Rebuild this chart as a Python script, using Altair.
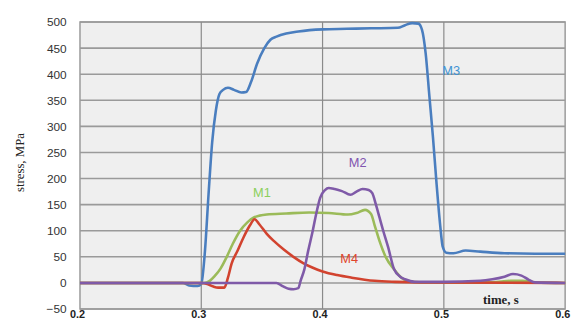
import altair as alt
import pandas as pd

# ---- data ----
m3_t = [0.200, 0.285, 0.290, 0.297, 0.300, 0.303, 0.306, 0.309, 0.312, 0.315, 0.318, 0.322, 0.327,
        0.333, 0.337, 0.341, 0.346, 0.352, 0.357, 0.362, 0.370, 0.380, 0.400, 0.420, 0.440, 0.462,
        0.468, 0.474, 0.479, 0.482, 0.485, 0.488, 0.491, 0.494, 0.497, 0.499, 0.502, 0.508, 0.518,
        0.530, 0.550, 0.575, 0.600]
m3_v = [0, 0, -5, -6, -2, 60, 170, 270, 330, 362, 370, 374, 370,
        365, 366, 385, 420, 450, 466, 472, 478, 482, 486, 487, 488, 489,
        494, 498, 497, 485, 440, 360, 280, 190, 110, 70, 58, 57, 62,
        60, 57, 56, 56]

m1_t = [0.200, 0.302, 0.307, 0.311, 0.316, 0.321, 0.326, 0.332, 0.338, 0.343, 0.354, 0.370, 0.389,
        0.405, 0.421, 0.428, 0.435, 0.440, 0.443, 0.447, 0.452, 0.459, 0.465, 0.470, 0.480, 0.540,
        0.555, 0.565, 0.575, 0.600]
m1_v = [0, 0, 4, 13, 28, 50, 75, 100, 116, 125, 131, 133, 135,
        134, 131, 134, 140, 132, 110, 80, 50, 26, 10, 4, 1, 1,
        4, 4, 1, 0]

m2_t = [0.200, 0.355, 0.362, 0.367, 0.372, 0.376, 0.380, 0.382, 0.385, 0.388, 0.392, 0.395, 0.398,
        0.402, 0.405, 0.410, 0.416, 0.423, 0.428, 0.433, 0.438, 0.441, 0.444, 0.447, 0.450, 0.454,
        0.459, 0.464, 0.468, 0.476, 0.500, 0.530, 0.540, 0.550, 0.557, 0.564, 0.570, 0.575, 0.600]
m2_v = [0, 0, 0, -6, -11, -12, -10, 5, 26, 60, 101, 135, 163,
        178, 182, 180, 176, 169, 175, 180, 178, 172, 150, 125, 100, 69,
        26, 12, 7, 2, 2, 4, 7, 12, 17, 14, 6, 1, 0]

m4_t = [0.200, 0.300, 0.305, 0.310, 0.314, 0.319, 0.322, 0.325, 0.330, 0.335, 0.340, 0.344, 0.348,
        0.354, 0.360, 0.368, 0.376, 0.384, 0.392, 0.400, 0.412, 0.424, 0.443, 0.460, 0.480, 0.600]
m4_v = [0, 0, -2, -7, -9, -9, 10, 37, 62, 88, 110, 122, 112,
        94, 80, 64, 50, 38, 29, 22, 15, 10, 4, 2, 1, 0]

series_names = ["M1", "M2", "M3", "M4"]
series_colors = ["#9bbb59", "#7f5aa8", "#4a7ebf", "#d2432f"]
draw_order = ["M3", "M1", "M4", "M2"]
label_colors = ["#8ccf5c", "#8156b0", "#3f93d4", "#e0452c"]
label_x = [0.350, 0.429, 0.506, 0.422]
label_y = [173, 229, 406, 45]

y_ticks = [-50, 0, 50, 100, 150, 200, 250, 300, 350, 400, 450, 500]
x_ticks = [0.2, 0.3, 0.4, 0.5, 0.6]
x_title = "time, s"
y_title = "stress, MPa"

series_data = {"M1": (m1_t, m1_v), "M2": (m2_t, m2_v), "M3": (m3_t, m3_v), "M4": (m4_t, m4_v)}

labels_df = pd.DataFrame({"series": series_names, "t": label_x, "v": label_y, "c": label_colors})

xscale = alt.Scale(domain=[0.2, 0.6], nice=False, zero=False)
yscale = alt.Scale(domain=[-50, 500], nice=False, zero=False)

x_axis = alt.Axis(values=x_ticks, format=".1f", title=None, grid=False, domain=False, ticks=False,
                  labelFont="Liberation Sans", labelFontSize=11, labelFontWeight="bold",
                  labelColor="#222222", labelPadding=0, labelFlush=False, labelOverlap=False,
                  labelOffset=-3)
y_axis = alt.Axis(values=y_ticks, title=y_title, grid=False, domain=False, ticks=False,
                  labelFont="Liberation Sans", labelFontSize=12, labelColor="#333333",
                  labelPadding=14, labelOverlap=False,
                  titleFont="Liberation Serif", titleFontSize=13, titleFontWeight="normal",
                  titleColor="#222222", titleX=-61, titleY=142, titleAlign="center",
                  titleBaseline="middle", titleAngle=270)

hgrid = alt.Chart(pd.DataFrame({"v": y_ticks})).mark_rule(color="#9a9a9a", strokeWidth=1.6).encode(
    y=alt.Y("v:Q", scale=yscale, axis=y_axis)
)
vgrid = alt.Chart(pd.DataFrame({"t": x_ticks[1:4]})).mark_rule(color="#8a8a8a", strokeWidth=1.2).encode(
    x=alt.X("t:Q", scale=xscale, axis=x_axis)
)

line_layers = []
for name in draw_order:
    ts, vs = series_data[name]
    d = pd.DataFrame({"series": name, "t": ts, "v": vs})
    line_layers.append(
        alt.Chart(d).mark_line(strokeWidth=2.6, interpolate="monotone").encode(
            x=alt.X("t:Q", scale=xscale, axis=x_axis),
            y=alt.Y("v:Q", scale=yscale, axis=y_axis),
            color=alt.Color("series:N", scale=alt.Scale(domain=series_names, range=series_colors),
                            legend=None),
        )
    )

texts = alt.Chart(labels_df).mark_text(font="Liberation Sans", fontSize=13).encode(
    x=alt.X("t:Q", scale=xscale, axis=x_axis),
    y=alt.Y("v:Q", scale=yscale, axis=y_axis),
    text="series:N",
    color=alt.Color("c:N", scale=None),
)

xtitle = alt.Chart(pd.DataFrame({"t": [0.547], "v": [-32], "s": [x_title]})).mark_text(
    font="Liberation Serif", fontSize=13, fontWeight="bold", color="#222222"
).encode(x=alt.X("t:Q", scale=xscale, axis=x_axis), y=alt.Y("v:Q", scale=yscale, axis=y_axis),
         text="s:N")

chart = alt.layer(hgrid, vgrid, *line_layers, texts, xtitle).properties(
    width=492, height=291,
    padding={"left": 73, "top": 12, "right": 10, "bottom": 16},
    autosize=alt.AutoSizeParams(type="none"),
    background="#ffffff",
).configure_view(fill="#efefef", stroke="#9a9a9a", strokeWidth=1.5)

chart.save("out.html", embed_options={"renderer": "svg", "actions": False})
